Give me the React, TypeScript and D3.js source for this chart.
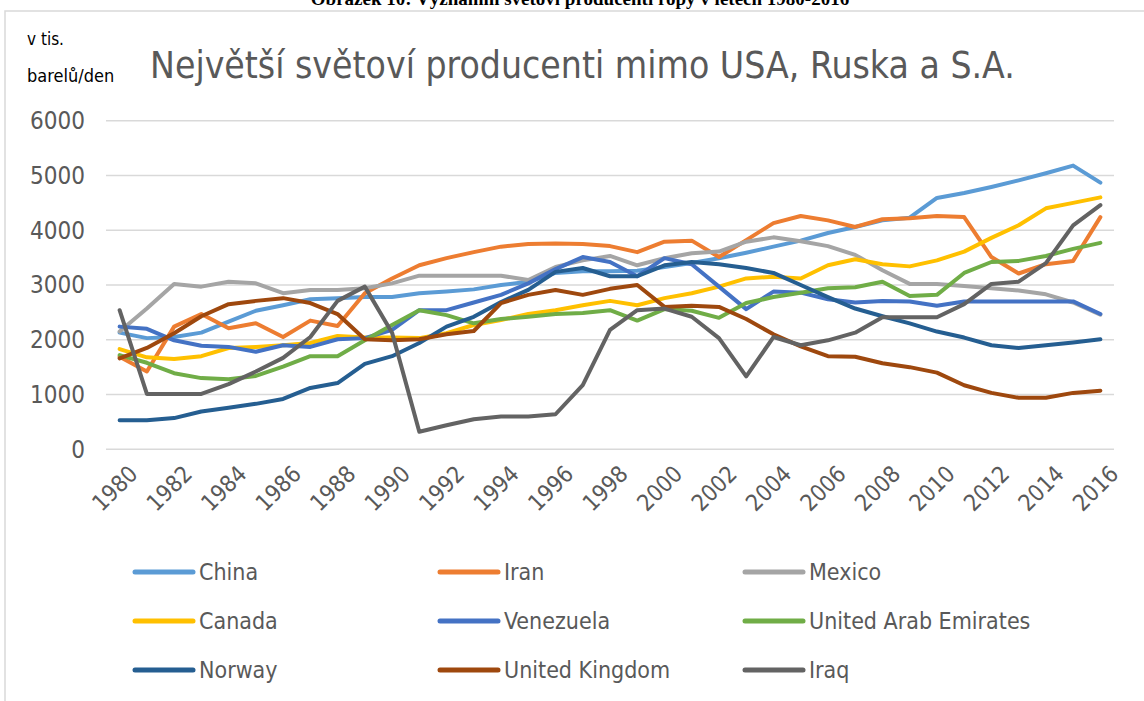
import React from 'react'
import * as d3 from 'd3'

const years = d3.range(1980, 2017)
const yTicks = [0, 1000, 2000, 3000, 4000, 5000, 6000]
const tickYears = years.filter(y => y % 2 === 0)

const china = [2130, 2030, 2050, 2130, 2330, 2530, 2630, 2740, 2760, 2780, 2780, 2850, 2880, 2920, 3000, 3060, 3220, 3250, 3250, 3260, 3330, 3400, 3490, 3590, 3700, 3810, 3950, 4060, 4180, 4230, 4590, 4680, 4790, 4910, 5040, 5180, 4870]
const iran = [1690, 1420, 2240, 2470, 2210, 2300, 2050, 2350, 2250, 2850, 3120, 3360, 3490, 3600, 3700, 3750, 3760, 3750, 3710, 3600, 3790, 3810, 3510, 3820, 4130, 4260, 4180, 4060, 4200, 4220, 4260, 4240, 3510, 3210, 3380, 3440, 4240]
const mexico = [2150, 2570, 3020, 2970, 3060, 3030, 2850, 2910, 2910, 2940, 3030, 3170, 3170, 3170, 3170, 3090, 3330, 3450, 3530, 3360, 3490, 3580, 3610, 3790, 3870, 3800, 3710, 3550, 3270, 3020, 3020, 2980, 2940, 2900, 2830, 2680, 2460]
const canada = [1830, 1680, 1650, 1700, 1850, 1870, 1900, 1940, 2070, 2040, 2040, 2030, 2120, 2270, 2360, 2470, 2540, 2630, 2710, 2630, 2760, 2850, 2970, 3120, 3150, 3120, 3360, 3470, 3380, 3340, 3450, 3610, 3860, 4090, 4400, 4500, 4600]
const venezuela = [2240, 2200, 1990, 1890, 1870, 1780, 1900, 1870, 2010, 2030, 2180, 2540, 2540, 2680, 2820, 3030, 3290, 3510, 3420, 3160, 3490, 3380, 2970, 2560, 2880, 2860, 2740, 2680, 2710, 2700, 2620, 2700, 2700, 2700, 2700, 2700, 2470]
const uae = [1720, 1580, 1390, 1300, 1280, 1340, 1510, 1700, 1700, 1990, 2270, 2540, 2450, 2300, 2380, 2420, 2470, 2490, 2540, 2350, 2560, 2530, 2400, 2670, 2780, 2860, 2940, 2960, 3060, 2800, 2820, 3220, 3420, 3440, 3530, 3660, 3770]
const norway = [530, 530, 570, 690, 760, 830, 920, 1120, 1210, 1560, 1700, 1940, 2240, 2420, 2690, 2910, 3240, 3310, 3160, 3160, 3360, 3420, 3380, 3310, 3220, 3000, 2780, 2570, 2430, 2300, 2150, 2040, 1900, 1850, 1900, 1950, 2010]
const uk = [1660, 1850, 2120, 2430, 2650, 2710, 2760, 2670, 2470, 2010, 1990, 2010, 2100, 2160, 2670, 2820, 2910, 2820, 2930, 3000, 2600, 2620, 2600, 2380, 2100, 1880, 1700, 1690, 1570, 1500, 1400, 1170, 1030, 940, 940, 1030, 1070]
const iraq = [2540, 1010, 1010, 1010, 1190, 1420, 1670, 2050, 2710, 2970, 2130, 320, 440, 550, 600, 600, 640, 1170, 2180, 2540, 2570, 2420, 2030, 1330, 2050, 1900, 1990, 2130, 2410, 2410, 2410, 2650, 3020, 3060, 3400, 4090, 4460]

const seriesNames = ['China', 'Iran', 'Mexico', 'Canada', 'Venezuela', 'United Arab Emirates', 'Norway', 'United Kingdom', 'Iraq']
const seriesColors = ['#5B9BD5', '#ED7D31', '#A5A5A5', '#FFC000', '#4472C4', '#70AD47', '#255E91', '#9E480E', '#636363']
const seriesValues = [china, iran, mexico, canada, venezuela, uae, norway, uk, iraq]

const font = "'Liberation Sans Narrow', 'DejaVu Sans Condensed', 'Open Sans', sans-serif"
const textColor = '#595959'

const App = () => {
  const x = d3.scalePoint<number>().domain(years).range([106, 1114]).padding(0.5)
  const y = d3.scaleLinear().domain([0, 6000]).range([449.3, 120.7])
  const line = d3
    .line<number>()
    .x((d, i) => x(years[i]) as number)
    .y(d => y(d))

  const legendCols = [135, 440, 745]
  const legendRows = [572, 621, 670]

  return (
    <svg
      width={1144}
      height={701}
      style={{position: 'absolute', left: 0, top: 0, background: '#fff'}}
    >
      {/* caption of the figure, cut by the page top as in the source */}
      <text
        x={580}
        y={5}
        textAnchor="middle"
        fontFamily="'Liberation Serif', serif"
        fontWeight="bold"
        fontSize={19}
        fill="#000"
      >
        Obrázek 10: Významní světoví producenti ropy v letech 1980-2016
      </text>
      <rect x={5} y={11} width={1160} height={720} fill="#fff" stroke="#d9d9d9" strokeWidth={1.5} />

      <text x={27} y={45} fontFamily={font} fontSize={17} fill="#000">v tis.</text>
      <text x={27} y={82} fontFamily={font} fontSize={18} fill="#000">barelů/den</text>
      <text x={150} y={78} fontFamily={font} fontSize={37} fill={textColor}>
        Největší světoví producenti mimo USA, Ruska a S.A.
      </text>

      {yTicks.map(t => (
        <g key={t}>
          <line x1={106} x2={1114} y1={y(t)} y2={y(t)} stroke="#d9d9d9" strokeWidth={1.5} />
          <text
            x={85}
            y={y(t)}
            dy="0.35em"
            textAnchor="end"
            fontFamily={font}
            fontSize={24}
            fill={textColor}
          >
            {t}
          </text>
        </g>
      ))}

      {tickYears.map(yr => (
        <text
          key={yr}
          transform={`translate(${(x(yr) as number) + 8}, ${464}) rotate(-45)`}
          textAnchor="end"
          dy="0.7em"
          fontFamily={font}
          fontSize={23}
          fill={textColor}
        >
          {yr}
        </text>
      ))}

      {seriesValues.map((vals, i) => (
        <path
          key={seriesNames[i]}
          d={line(vals) || ''}
          fill="none"
          stroke={seriesColors[i]}
          strokeWidth={4}
          strokeLinejoin="round"
          strokeLinecap="round"
        />
      ))}

      {seriesNames.map((name, i) => {
        const lx = legendCols[i % 3]
        const ly = legendRows[Math.floor(i / 3)]
        return (
          <g key={name} transform={`translate(${lx}, ${ly})`}>
            <line x1={0} x2={58} y1={0} y2={0} stroke={seriesColors[i]} strokeWidth={5} strokeLinecap="round" />
            <text x={64} y={0} dy="0.35em" fontFamily={font} fontSize={23} fill={textColor}>
              {name}
            </text>
          </g>
        )
      })}
    </svg>
  )
}

export default App
